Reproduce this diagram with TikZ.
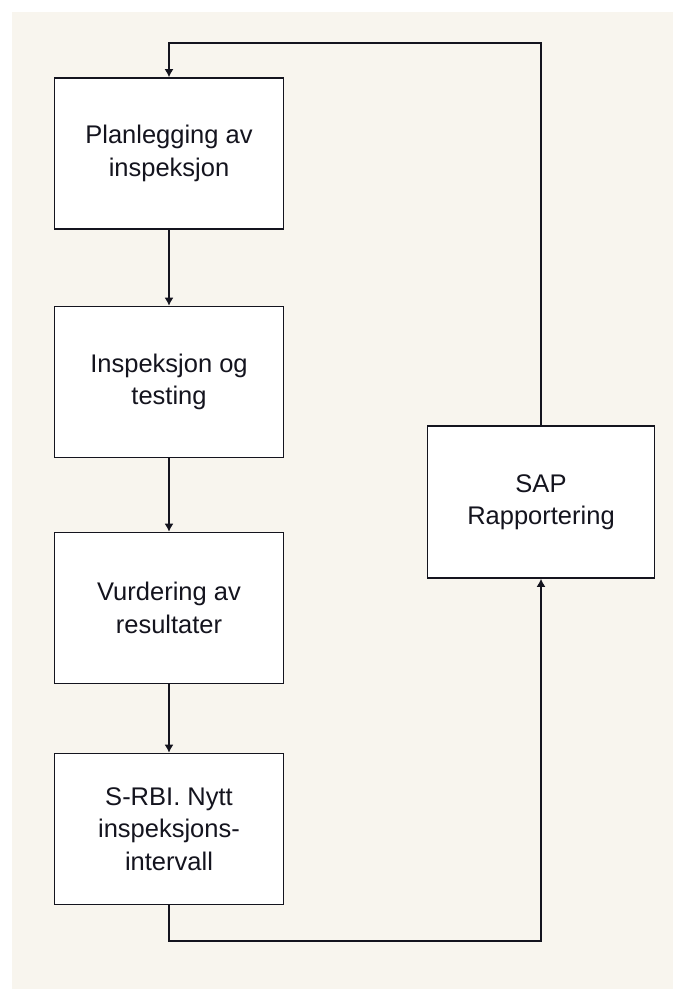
\documentclass[tikz,border=0pt]{standalone}
\usepackage{fontspec}
\setmainfont{Liberation Sans}
\usetikzlibrary{arrows.meta}
\definecolor{paper}{RGB}{248,245,238}
\definecolor{ink}{RGB}{20,20,30}
\begin{document}
\begin{tikzpicture}[x=1pt,y=-1pt,
  procbox/.style={draw=ink, line width=1.7pt, fill=white, inner sep=0pt,
    minimum width=229pt, minimum height=151pt, align=center,
    font=\fontsize{25.5}{32.5}\selectfont, text=ink},
  flow/.style={draw=ink, line width=1.3pt, -{Latex[length=8pt,width=9pt]}},
  link/.style={draw=ink, line width=1.3pt}]
  % page and backdrop
  \useasboundingbox (0,0) rectangle (673,989);
  \fill[white] (0,0) rectangle (673,989);
  \fill[paper] (12,12) rectangle (673,989);

  % process steps
  \node[procbox] (plan) at (169,153.5) {Planlegging av\\inspeksjon};
  \node[procbox] (insp) at (169,382) {Inspeksjon og\\testing};
  \node[procbox] (vurd) at (169,608) {Vurdering av\\resultater};
  \node[procbox] (srbi) at (169,829) {S-RBI. Nytt\\inspeksjons-\\intervall};
  \node[procbox, minimum width=227pt, minimum height=152pt] (sap) at (541,502) {SAP\\Rapportering};

  % loop corners
  \coordinate (topR) at (541,43);
  \coordinate (botR) at (541,941);

  % connectors
  \draw[flow] (plan.south) -- (insp.north);
  \draw[flow] (insp.south) -- (vurd.north);
  \draw[flow] (vurd.south) -- (srbi.north);
  \draw[flow] (srbi.south) |- (botR) -- (sap.south);
  \draw[flow] (sap.north) -- (topR) -| (plan.north);
\end{tikzpicture}
\end{document}
